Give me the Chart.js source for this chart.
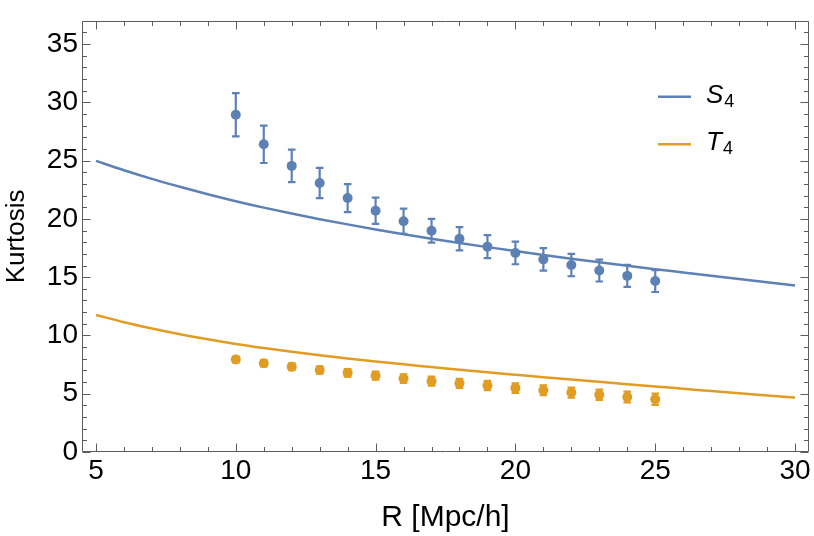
<!DOCTYPE html>
<html>
<head>
<meta charset="utf-8">
<script src="https://cdn.jsdelivr.net/npm/chart.js@4/dist/chart.umd.min.js"></script>
<style>
html,body{margin:0;padding:0;background:#fff;}
#wrap{width:814px;height:536px;position:relative;}
</style>
</head>
<body>
<div id="wrap"><canvas id="c"></canvas></div>
<script>
// ---- data ----
const rPoints = [10,11,12,13,14,15,16,17,18,19,20,21,22,23,24,25];
const s4Points = [28.94,26.4,24.55,23.08,21.79,20.7,19.8,18.99,18.3,17.62,17.08,16.53,16.04,15.57,15.11,14.67];
const s4Errors = [1.85,1.6,1.4,1.3,1.2,1.12,1.08,1.02,1.0,0.99,0.97,0.96,0.96,0.94,0.94,0.94];
const t4Points = [7.94,7.61,7.31,7.04,6.79,6.55,6.30,6.08,5.89,5.70,5.48,5.29,5.10,4.91,4.72,4.53];
const t4Errors = [0.25,0.27,0.29,0.31,0.33,0.35,0.37,0.38,0.39,0.40,0.41,0.42,0.43,0.44,0.46,0.48];

const rCurve = [5,6,7,8,9,10,11,12,13,14,15,16,17,18,19,20,21,22,23,24,25,26,27,28,29,30];
const s4Curve = [24.98,24.18,23.44,22.76,22.12,21.52,20.97,20.46,19.98,19.53,19.1,18.69,18.3,17.93,17.58,17.24,16.91,16.59,16.28,15.98,15.69,15.41,15.13,14.85,14.57,14.29];
const t4Curve = [11.76,11.14,10.6,10.11,9.67,9.27,8.92,8.6,8.3,8.03,7.77,7.52,7.29,7.06,6.84,6.63,6.42,6.22,6.02,5.82,5.62,5.43,5.23,5.04,4.85,4.66];

const xTickValues = [5,10,15,20,25,30];
const yTickValues = [0,5,10,15,20,25,30,35];
const legendMain = ['S','T'];
const legendSub = ['4','4'];
const xTitle = 'R [Mpc/h]';
const yTitle = 'Kurtosis';

const BLUE = '#5E81B5';
const ORANGE = '#E19C24';
const FONT = '"Liberation Sans", Arial, Helvetica, sans-serif';

const errorSets = [
  {values: s4Points, errors: s4Errors, color: BLUE},
  {values: t4Points, errors: t4Errors, color: ORANGE}
];

const errorBarPlugin = {
  id: 'errorBars',
  beforeDatasetsDraw(chart) {
    const {ctx, scales: {x, y}} = chart;
    ctx.save();
    ctx.lineWidth = 2.2;
    errorSets.forEach(set => {
      ctx.strokeStyle = set.color;
      rPoints.forEach((r, i) => {
        const px = x.getPixelForValue(r);
        const yt = y.getPixelForValue(set.values[i] + set.errors[i]);
        const yb = y.getPixelForValue(set.values[i] - set.errors[i]);
        ctx.beginPath();
        ctx.moveTo(px, yt); ctx.lineTo(px, yb);
        ctx.moveTo(px - 3.8, yt); ctx.lineTo(px + 3.8, yt);
        ctx.moveTo(px - 3.8, yb); ctx.lineTo(px + 3.8, yb);
        ctx.stroke();
      });
    });
    ctx.restore();
  }
};

const framePlugin = {
  id: 'frame',
  afterDraw(chart) {
    const {ctx, chartArea: a, scales: {x, y}} = chart;
    ctx.save();
    ctx.strokeStyle = '#5c5c5c';
    ctx.lineWidth = 1;
    const L = Math.round(a.left) + 0.5, R = Math.round(a.right) - 0.5;
    const T = Math.round(a.top) + 0.5, B = Math.round(a.bottom) - 0.5;
    ctx.beginPath();
    ctx.rect(L, T, R - L, B - T);
    ctx.stroke();
    ctx.beginPath();
    for (let v = Math.ceil(x.min); v <= x.max; v++) {
      const px = Math.round(x.getPixelForValue(v)) + 0.5;
      const len = xTickValues.includes(v) ? 8 : 4.5;
      ctx.moveTo(px, B); ctx.lineTo(px, B - len);
      ctx.moveTo(px, T); ctx.lineTo(px, T + len);
    }
    for (let v = Math.ceil(y.min); v <= y.max; v++) {
      const py = Math.round(y.getPixelForValue(v)) + 0.5;
      const len = yTickValues.includes(v) ? 8 : 4.5;
      ctx.moveTo(L, py); ctx.lineTo(L + len, py);
      ctx.moveTo(R, py); ctx.lineTo(R - len, py);
    }
    ctx.stroke();

    // legend
    const colors = [BLUE, ORANGE];
    const lineY = [96.7, 144.3];
    const baseY = [103, 150];
    colors.forEach((c, i) => {
      ctx.strokeStyle = c;
      ctx.lineWidth = 2.5;
      ctx.beginPath();
      ctx.moveTo(658, lineY[i]); ctx.lineTo(691, lineY[i]);
      ctx.stroke();
      ctx.fillStyle = '#000';
      ctx.textBaseline = 'alphabetic';
      ctx.textAlign = 'left';
      ctx.font = 'italic 26px ' + FONT;
      ctx.fillText(legendMain[i], 706, baseY[i]);
      const w = ctx.measureText(legendMain[i]).width;
      ctx.font = '18px ' + FONT;
      ctx.fillText(legendSub[i], 706 + w + 1, baseY[i] + 4);
    });
    ctx.restore();
  }
};

const toXY = (xs, ys) => xs.map((v, i) => ({x: v, y: ys[i]}));

new Chart(document.getElementById('c'), {
  type: 'scatter',
  data: {
    datasets: [
      {label: 'S4', data: toXY(rCurve, s4Curve), showLine: true, borderColor: BLUE, borderWidth: 2.5, pointRadius: 0, cubicInterpolationMode: 'monotone', fill: false},
      {label: 'T4', data: toXY(rCurve, t4Curve), showLine: true, borderColor: ORANGE, borderWidth: 2.5, pointRadius: 0, cubicInterpolationMode: 'monotone', fill: false},
      {label: 'S4 data', data: toXY(rPoints, s4Points), showLine: false, backgroundColor: BLUE, borderWidth: 0, pointRadius: 5},
      {label: 'T4 data', data: toXY(rPoints, t4Points), showLine: false, backgroundColor: ORANGE, borderWidth: 0, pointRadius: 5}
    ]
  },
  options: {
    responsive: true,
    maintainAspectRatio: false,
    animation: false,
    devicePixelRatio: 1,
    layout: {padding: {left: 0, right: 3, top: 0, bottom: 0}},
    plugins: {legend: {display: false}, tooltip: {enabled: false}},
    scales: {
      x: {
        type: 'linear', min: 4.5, max: 30.5,
        grid: {display: false, drawTicks: false},
        border: {display: false},
        afterBuildTicks: s => { s.ticks = xTickValues.map(v => ({value: v})); },
        afterFit: s => { s.height = 84; },
        ticks: {color: '#000', font: {family: FONT, size: 28}, padding: 2, maxRotation: 0, autoSkip: false},
        title: {display: true, text: xTitle, color: '#000', font: {family: FONT, size: 30, lineHeight: 1}, padding: {top: 0, bottom: 3}}
      },
      y: {
        type: 'linear', min: 0, max: 37,
        grid: {display: false, drawTicks: false},
        border: {display: false},
        afterBuildTicks: s => { s.ticks = yTickValues.map(v => ({value: v})); },
        afterFit: s => { s.width = 82; },
        ticks: {color: '#000', font: {family: FONT, size: 28}, padding: 4, autoSkip: false},
        title: {display: true, text: yTitle, color: '#000', font: {family: FONT, size: 26, lineHeight: 1}, padding: {top: 4, bottom: 0}}
      }
    }
  },
  plugins: [errorBarPlugin, framePlugin]
});
</script>
</body>
</html>
